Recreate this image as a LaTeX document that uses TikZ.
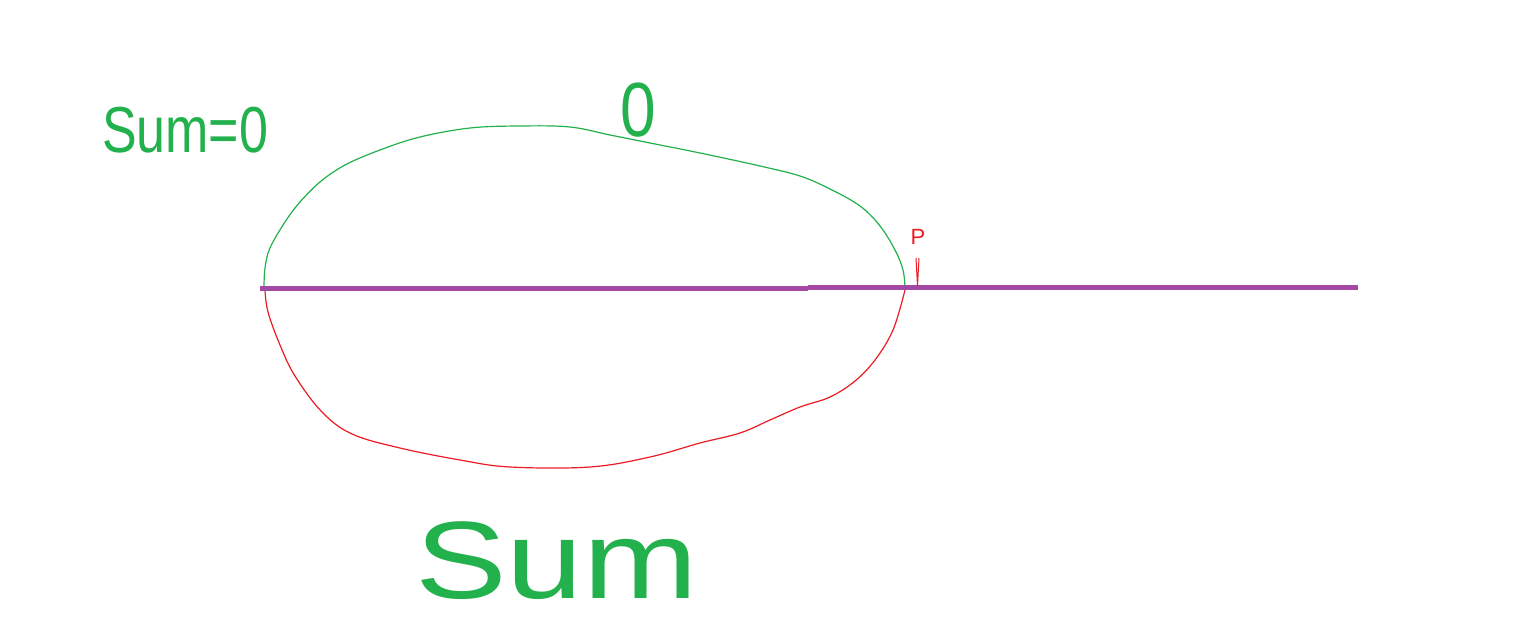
\documentclass[tikz,border=0pt]{standalone}
\usepackage{fontspec}
\setmainfont{Liberation Sans}
\definecolor{pgreen}{HTML}{22B14C}
\definecolor{pred}{HTML}{ED1C24}
\definecolor{ppurple}{HTML}{A349A4}
\tikzset{
  greenstroke/.style={draw=pgreen, line width=1.2pt, line join=round},
  redstroke/.style={draw=pred, line width=1.2pt, line join=round},
  axisline/.style={draw=ppurple, line width=5pt},
  handtext/.style={inner sep=0pt, outer sep=0pt},
}
\begin{document}
\begin{tikzpicture}[x=1pt,y=-1pt]
\useasboundingbox[fill=white] (0,0) rectangle (1537,626);
% end points
\coordinate (L) at (264,288);
\coordinate (R) at (905,288);
\coordinate (A1) at (260,288);
\coordinate (A2) at (808,288);
\coordinate (A3) at (808,287);
\coordinate (A4) at (1358,287);
% upper (green) arc
\draw[greenstroke] plot[smooth, tension=0.6] coordinates {
 (264,288) (265,268) (270,248) (285,222) (300,202) (320,182) (345,165)
 (380,150) (420,137) (470,128) (520,126) (570,127) (610,135) (650,143)
 (700,153) (760,166) (800,176) (830,189) (860,206) (880,226) (895,250)
 (903,270) (905,288)};
% lower (red) arc
\draw[redstroke] plot[smooth, tension=0.6] coordinates {
 (265,290) (268,312) (280,345) (295,376) (322,412) (352,434) (400,448)
 (460,460) (510,467) (590,467) (650,457) (700,443) (740,433) (770,420)
 (800,407) (830,397) (855,381) (875,360) (893,330) (905,290)};
% purple line
\draw[axisline] (A1) -- (A2);
\draw[axisline] (A3) -- (A4);
% red pointer
\coordinate (P1) at (916,258);
\coordinate (P2) at (919,258);
\coordinate (P3) at (917.5,286);
\draw[redstroke, line width=1pt] (P1) -- (P3) -- (P2);
% texts
\node[handtext, text=pgreen, anchor=south west, yscale=1.25] (t1) at (102,153)
  {\fontsize{52}{52}\selectfont Sum=0};
\node[handtext, text=pgreen, anchor=south, yscale=1.2] (t2) at (638,137)
  {\fontsize{64}{64}\selectfont 0};
\node[handtext, text=pred, anchor=south] (t3) at (918,244)
  {\fontsize{22}{22}\selectfont P};
\node[handtext, text=pgreen, anchor=south west, xscale=1.25] (t4) at (415,600)
  {\fontsize{110}{110}\selectfont Sum};
\end{tikzpicture}
\end{document}
